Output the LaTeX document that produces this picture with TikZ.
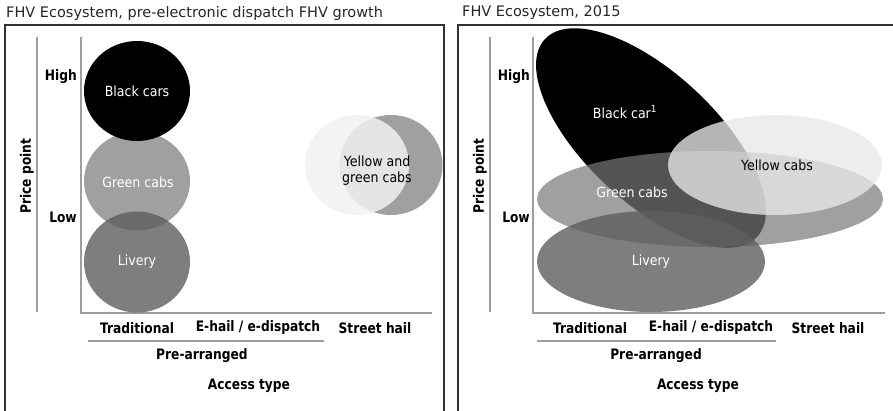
\documentclass[tikz,border=0pt]{standalone}
\usepackage{fontspec}
\setmainfont{DejaVu Sans}
\newfontfamily\labelfont[FakeStretch=0.9]{DejaVu Sans}
\newfontfamily\axisfont[FakeStretch=0.85]{DejaVu Sans Bold}
\definecolor{framegray}{gray}{0.2}
\definecolor{axisgray}{gray}{0.62}
\tikzset{
  panelframe/.style={draw=framegray, line width=1.6pt},
  axisline/.style={draw=axisgray, line width=1.1pt},
  grouprule/.style={draw=axisgray, line width=1.6pt},
  paneltitle/.style={anchor=west, inner sep=0pt, text=black!85,
    font=\fontsize{14.5}{17}\selectfont},
  axislabel/.style={inner sep=0pt, font=\axisfont\fontsize{14.4}{17}\selectfont},
  levellabel/.style={axislabel, anchor=east},
  blobtext/.style={inner sep=0pt, align=center, font=\labelfont\fontsize{14}{17}\selectfont},
  darktext/.style={blobtext, text=white},
  blackfill/.style={fill=black},
  greenfill/.style={fill={black!53}, fill opacity=0.7},
  liveryfill/.style={fill={black!63}, fill opacity=0.8},
  yellowfill/.style={fill={black!9}, fill opacity=0.78},
  palefill/.style={fill={black!5.5}, fill opacity=0.86},
}
\begin{document}
\begin{tikzpicture}[x=1pt, y=-1pt]
\useasboundingbox (0,0) rectangle (893,410);

% ---------------- left panel: pre-electronic dispatch ----------------
\node[paneltitle] (titleA) at (6,13) {FHV Ecosystem, pre-electronic dispatch FHV growth};
\draw[panelframe] (5,430) -- (5,25) -- (444,25) -- (444,430);

\coordinate (pA1) at (37,37);  \coordinate (pA2) at (37,312);
\coordinate (yA1) at (81,37);  \coordinate (yA2) at (81,313);
\coordinate (xA2) at (432,313);
\draw[axisline] (pA1) -- (pA2);
\draw[axisline] (yA1) -- (yA2) -- (xA2);

% market segments
\fill[greenfill] (137,181) ellipse [x radius=53pt, y radius=49.5pt];
\fill[blackfill] (137,91) ellipse [x radius=53pt, y radius=50pt];
\fill[liveryfill] (137,262) ellipse [x radius=53pt, y radius=50.5pt];
\fill[greenfill] (391,165) ellipse [x radius=51.5pt, y radius=50pt];
\fill[palefill] (357,165) ellipse [x radius=52pt, y radius=50pt];

\node[darktext] (blackA) at (137,91) {Black cars};
\node[darktext] (greenA) at (138,182) {Green cabs};
\node[darktext] (liveryA) at (137,262) {Livery};
\node[blobtext] (streetA) at (377,171) {Yellow and\\[-1pt]green cabs};

\node[axislabel, rotate=90] (priceA) at (27,176) {Price point};
\node[levellabel] (highA) at (77,77) {High};
\node[levellabel] (lowA) at (77,217) {Low};

\node[axislabel] (tradA) at (137,328) {Traditional};
\node[axislabel] (ehailA) at (258,328) {E-hail / e-dispatch};
\node[axislabel] (hailA) at (375,328) {Street hail};
\coordinate (gA1) at (88,341); \coordinate (gA2) at (324,341);
\draw[grouprule] (gA1) -- (gA2);
\node[axislabel] (preA) at (202,356) {Pre-arranged};
\node[axislabel] (accessA) at (249,386) {Access type};

% ---------------- right panel: 2015 ----------------
\node[paneltitle] (titleB) at (462,13) {FHV Ecosystem, 2015};
\draw[panelframe] (458,430) -- (458,25) -- (900,25);

\coordinate (pB1) at (490,37);  \coordinate (pB2) at (490,312);
\coordinate (yB1) at (533,37);  \coordinate (yB2) at (533,313);
\coordinate (xB2) at (885,313);
\draw[axisline] (pB1) -- (pB2);
\draw[axisline] (yB1) -- (yB2) -- (xB2);

% market segments
\fill[blackfill, rotate around={-43:(651,138)}] (651,138) ellipse [x radius=145pt, y radius=65pt];
\fill[greenfill] (710,199) ellipse [x radius=173pt, y radius=48pt];
\fill[liveryfill] (651,261.5) ellipse [x radius=114pt, y radius=50.5pt];
\fill[yellowfill] (775,165) ellipse [x radius=107pt, y radius=50pt];

\node[darktext] (blackB) at (625,112) {Black car\textsuperscript{1}};
\node[darktext] (greenB) at (632,192) {Green cabs};
\node[darktext] (liveryB) at (651,262) {Livery};
\node[blobtext] (yellowB) at (777,165) {Yellow cabs};

\node[axislabel, rotate=90] (priceB) at (480,176) {Price point};
\node[levellabel] (highB) at (530,77) {High};
\node[levellabel] (lowB) at (530,217) {Low};

\node[axislabel] (tradB) at (590,328) {Traditional};
\node[axislabel] (ehailB) at (711,328) {E-hail / e-dispatch};
\node[axislabel] (hailB) at (828,328) {Street hail};
\coordinate (gB1) at (537,341); \coordinate (gB2) at (776,341);
\draw[grouprule] (gB1) -- (gB2);
\node[axislabel] (preB) at (656,356) {Pre-arranged};
\node[axislabel] (accessB) at (698,386) {Access type};
\end{tikzpicture}
\end{document}
